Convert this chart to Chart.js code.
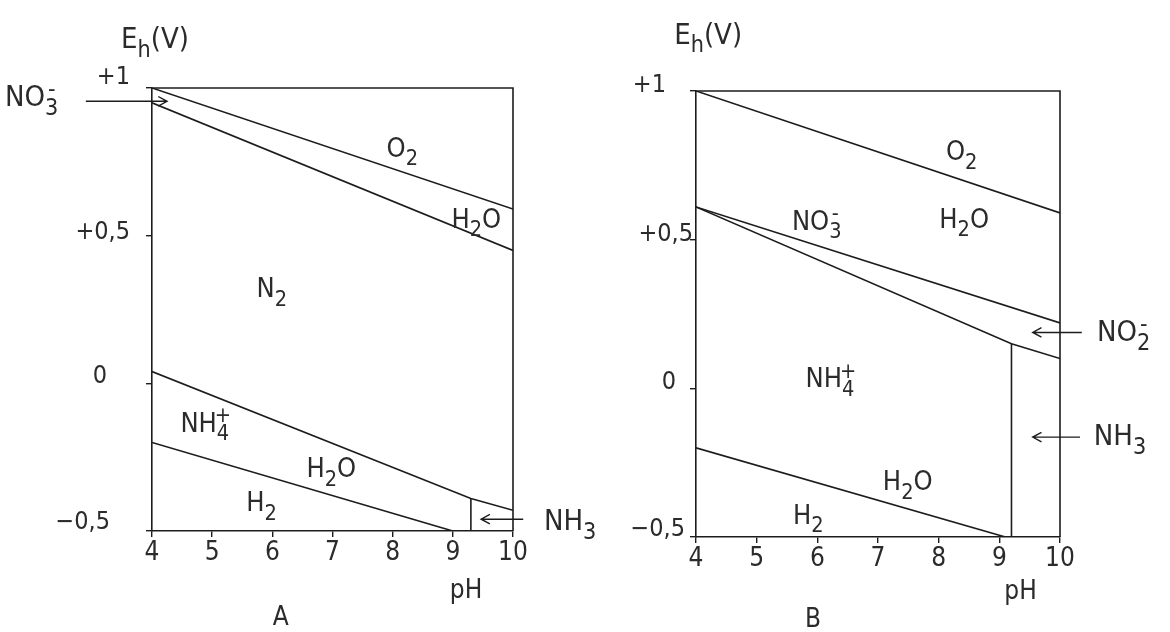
<!DOCTYPE html>
<html>
<head>
<meta charset="utf-8">
<script src="https://cdn.jsdelivr.net/npm/chart.js@4.4.1/dist/chart.umd.min.js"></script>
<style>
  body { margin:0; background:#fff; width:1170px; height:632px; overflow:hidden; position:relative; }
  canvas { position:absolute; top:0; }
  #chartA { left:0; }
  #chartB { left:585px; }
</style>
</head>
<body>
<canvas id="chartA" width="620" height="632"></canvas>
<canvas id="chartB" width="585" height="632"></canvas>
<script>
// axes
const phTicks = [4, 5, 6, 7, 8, 9, 10];
const ehTicks = [-0.5, 0, 0.5, 1];
const ehTickLabels = ['\u22120,5', '0', '+0,5', '+1'];

// panel A boundaries (pH, Eh)
const aO2Ph  = [4, 10];        const aO2Eh  = [1.0, 0.59];
const aNO3Ph = [4, 10];        const aNO3Eh = [0.95, 0.45];
const aNH4Ph = [4, 9.3, 10];   const aNH4Eh = [0.04, -0.39, -0.43];
const aH2Ph  = [4, 9];         const aH2Eh  = [-0.2, -0.5];
const aNH3Ph = [9.3, 9.3];     const aNH3Eh = [-0.5, -0.39];

// panel B boundaries
const bO2Ph  = [4, 10];        const bO2Eh  = [1.0, 0.59];
const bNO3Ph = [4, 10];        const bNO3Eh = [0.61, 0.22];
const bNO2Ph = [4, 9.2, 10];   const bNO2Eh = [0.61, 0.15, 0.10];
const bH2Ph  = [4, 9.1];       const bH2Eh  = [-0.2, -0.5];
const bNH3Ph = [9.2, 9.2];     const bNH3Eh = [-0.5, 0.15];

const INK = '#1c1c1c';
const TXT = '#2b2b2b';
const FONT = '"DejaVu Sans Condensed", "DejaVu Sans", sans-serif';

function parseChem(s){
  let out=[];
  for(let i=0;i<s.length;i++){
    let c=s[i];
    if(c=='_') out.push({t:s[++i],k:'sub'});
    else if(c=='^') out.push({t:s[++i],k:'sup'});
    else out.push({t:c,k:'n'});
  }
  return out;
}

// draws text like H_2O or NO_3^- centred on cx,cy
function drawChem(ctx,s,cx,cy,size){
  let toks=parseChem(s);
  let x=0, subX=null, subW=0, placed=[];
  toks.forEach(tk=>{
    let fs = tk.k=='n' ? size : size*0.8;
    ctx.font = fs+'px '+FONT;
    let w = ctx.measureText(tk.t).width;
    let dy = tk.k=='sub' ? size*0.36 : (tk.k=='sup' ? -size*0.3 : 0);
    if(tk.k=='sup' && subX!==null){
      placed.push({t:tk.t,fs:fs,x:subX+(subW-w)/2,dy:dy});
      x = subX+Math.max(subW,w);
      subX=null;
    } else {
      placed.push({t:tk.t,fs:fs,x:x,dy:dy});
      if(tk.k=='sub'){ subX=x; subW=w; } else subX=null;
      x+=w;
    }
  });
  let left = cx - x/2;
  ctx.fillStyle=TXT;
  ctx.textBaseline='middle';
  ctx.textAlign='left';
  placed.forEach(p=>{
    ctx.font = p.fs+'px '+FONT;
    ctx.fillText(p.t,left+p.x,cy+p.dy);
  });
}

const diagramPlugin = {
  id:'diagram',
  afterDatasetsDraw(chart,args,opts){
    const ctx=chart.ctx, a=chart.chartArea, x=chart.scales.x, y=chart.scales.y;
    ctx.save();
    ctx.strokeStyle=INK;
    ctx.lineWidth=1.6;
    // top and right side of the frame
    ctx.beginPath();
    ctx.moveTo(a.left,a.top);
    ctx.lineTo(a.right,a.top);
    ctx.lineTo(a.right,a.bottom);
    ctx.stroke();

    // Eh tick labels, hand placed like the original lettering
    ctx.fillStyle=TXT;
    ctx.font='25px '+FONT;
    ctx.textAlign='right';
    ctx.textBaseline='middle';
    y.ticks.forEach(t=>{
      let k=ehTicks.indexOf(t.value);
      ctx.fillText(ehTickLabels[k], a.left-opts.gaps[k], y.getPixelForValue(t.value)+opts.lifts[k]);
    });

    ctx.lineWidth=1.4;
    opts.arrows.forEach(ar=>{
      let x1=x.getPixelForValue(ar.from[0]), y1=y.getPixelForValue(ar.from[1]);
      let x2=x.getPixelForValue(ar.to[0]),   y2=y.getPixelForValue(ar.to[1]);
      let ang=Math.atan2(y2-y1,x2-x1);
      ctx.beginPath();
      ctx.moveTo(x1,y1); ctx.lineTo(x2,y2);
      ctx.moveTo(x2-10*Math.cos(ang-0.5),y2-10*Math.sin(ang-0.5));
      ctx.lineTo(x2,y2);
      ctx.lineTo(x2-10*Math.cos(ang+0.5),y2-10*Math.sin(ang+0.5));
      ctx.stroke();
    });

    opts.labels.forEach(l=>{
      drawChem(ctx,l.text,x.getPixelForValue(l.at[0]),y.getPixelForValue(l.at[1]),l.size||27);
    });
    ctx.restore();
  }
};

function lineSet(ph,eh){
  return {
    data: ph.map((p,i)=>({x:p,y:eh[i]})),
    showLine:true, borderColor:INK, borderWidth:1.6,
    pointRadius:0, tension:0, fill:false
  };
}

function makeChart(id,sets,labels,arrows,pad,gaps,lifts){
  return new Chart(document.getElementById(id),{
    type:'scatter',
    data:{datasets:sets},
    options:{
      responsive:false,
      animation:false,
      devicePixelRatio:1,
      layout:{padding:pad},
      plugins:{
        legend:{display:false},
        tooltip:{enabled:false},
        diagram:{labels:labels,arrows:arrows,gaps:gaps,lifts:lifts}
      },
      scales:{
        x:{
          type:'linear', min:4, max:10,
          afterBuildTicks:s=>{ s.ticks=phTicks.map(v=>({value:v})); },
          afterFit:s=>{ s.height=40; },
          border:{color:INK,width:1.6},
          grid:{drawOnChartArea:false,tickLength:6,color:INK,lineWidth:1.4},
          ticks:{color:TXT,font:{family:FONT,size:26},padding:1,maxRotation:0}
        },
        y:{
          type:'linear', min:-0.5, max:1,
          afterBuildTicks:s=>{ s.ticks=ehTicks.map(v=>({value:v})); },
          afterFit:s=>{ s.width=60; },
          border:{color:INK,width:1.6},
          grid:{drawOnChartArea:false,tickLength:6,color:INK,lineWidth:1.4},
          ticks:{display:false}
        }
      }
    },
    plugins:[diagramPlugin]
  });
}

makeChart('chartA',
  [lineSet(aO2Ph,aO2Eh),lineSet(aNO3Ph,aNO3Eh),lineSet(aNH4Ph,aNH4Eh),lineSet(aH2Ph,aH2Eh),lineSet(aNH3Ph,aNH3Eh)],
  [
    {text:'E_h(V)',at:[4.05,1.16],size:29},
    {text:'NO_3^-',at:[2.0,0.965],size:29},
    {text:'O_2',at:[8.16,0.79]},
    {text:'H_2O',at:[9.39,0.55]},
    {text:'N_2',at:[5.99,0.315]},
    {text:'NH_4^+',at:[4.91,-0.14]},
    {text:'H_2O',at:[6.98,-0.295]},
    {text:'H_2',at:[5.82,-0.41]},
    {text:'NH_3',at:[10.95,-0.47],size:29},
    {text:'pH',at:[9.22,-0.705],size:26},
    {text:'A',at:[6.14,-0.797],size:26}
  ],
  [
    {from:[2.9,0.955],to:[4.25,0.955]},
    {from:[10.17,-0.46],to:[9.47,-0.46]}
  ],
  {left:92,top:88,right:107,bottom:61},
  [42,45,22,22],
  [-9,-7,-3,-11]
);

makeChart('chartB',
  [lineSet(bO2Ph,bO2Eh),lineSet(bNO3Ph,bNO3Eh),lineSet(bNO2Ph,bNO2Eh),lineSet(bH2Ph,bH2Eh),lineSet(bNH3Ph,bNH3Eh)],
  [
    {text:'E_h(V)',at:[4.2,1.185],size:29},
    {text:'O_2',at:[8.38,0.79]},
    {text:'NO_3^-',at:[5.99,0.557]},
    {text:'H_2O',at:[8.42,0.564]},
    {text:'NO_2^-',at:[11.05,0.185],size:29},
    {text:'NH_4^+',at:[6.24,0.027]},
    {text:'NH_3',at:[10.99,-0.164],size:29},
    {text:'H_2O',at:[7.49,-0.32]},
    {text:'H_2',at:[5.85,-0.433]},
    {text:'pH',at:[9.35,-0.685],size:26},
    {text:'B',at:[5.93,-0.78],size:26}
  ],
  [
    {from:[10.36,0.188],to:[9.55,0.188]},
    {from:[10.33,-0.164],to:[9.55,-0.164]}
  ],
  {left:51,top:91,right:110,bottom:55},
  [11,20,3,30],
  [-8,-6,-5,-6]
);
</script>
</body>
</html>
